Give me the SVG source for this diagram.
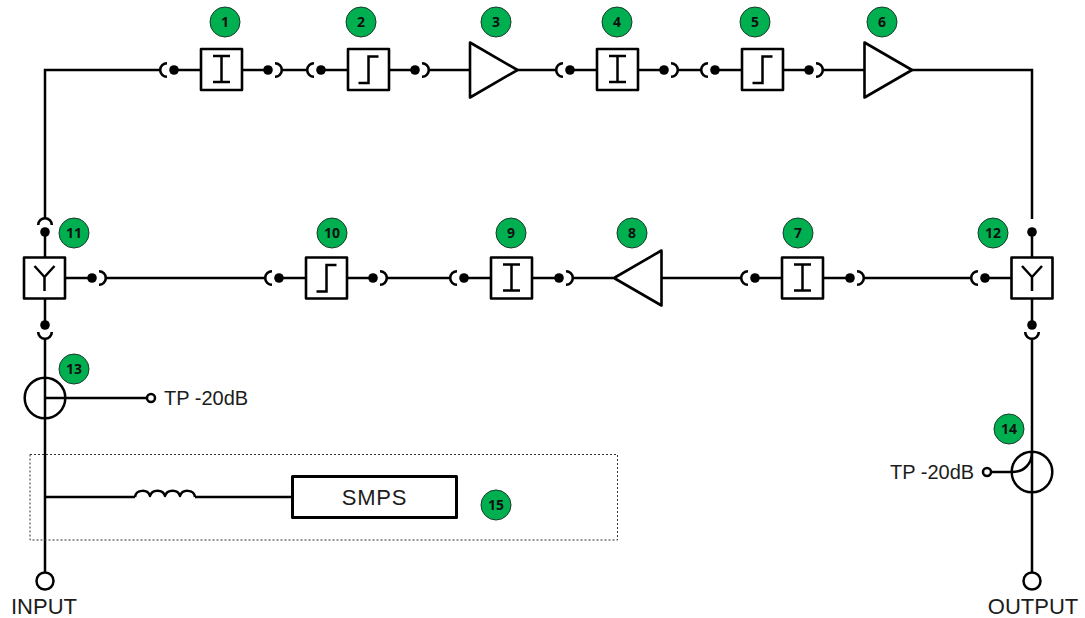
<svg xmlns="http://www.w3.org/2000/svg" width="1085" height="618" viewBox="0 0 1085 618">
<style>
.l{fill:none;stroke:#000;stroke-width:2.5}
.b{fill:#fff;stroke:#000;stroke-width:2.6;stroke-linejoin:round}
.g{fill:none;stroke:#000;stroke-width:2.5}
.c{fill:#00b050;stroke:#1a3a28;stroke-width:1}
.n{font-family:"Open Sans","Noto Sans",sans-serif;font-weight:700;font-size:14px;text-anchor:middle;fill:#111}
.t{font-family:"Liberation Sans",Arial,sans-serif;font-size:20px;fill:#1c1c1c}
.h{font-size:22px}
.m{text-anchor:middle}
.o{fill:#fff;stroke:#000;stroke-width:2.5}
</style>
<defs>
<g id="jack"><circle r="4.800" fill="#000"/><path d="M-7,-6.800A6.800,6.800 0 0 0 -7,6.800" fill="none" stroke="#000" stroke-width="2.600"/></g>
<g id="boxI"><rect class="b" x="-20.500" y="-20.500" width="41" height="41"/><path class="g" d="M-8.500,-13.500H8.500M0,-13.500V12.500M-8.500,12.500H8.500"/></g>
<g id="boxS"><rect class="b" x="-20.500" y="-20.500" width="41" height="41"/><path class="g" d="M-10,13.500H0V-13H10"/></g>
<g id="boxY"><rect class="b" x="-20.500" y="-20.500" width="41" height="41"/><path class="g" d="M-10,-12L0,-1L10,-12M0,-1V13"/></g>
<path id="tri" class="b" d="M0,-27.500L47.500,0L0,27.500Z"/>
<circle id="badge" class="c" r="15"/>
</defs>

<g id="connectors">
<path class="l" d="M45,219V70H160M174,70H201M242,70H268M282,70H307M321,70H348M388,70H415M429,70H470M517,70H556M570,70H597M637,70H664M678,70H701M715,70H742M782,70H809M823,70H864M912,70H1032V219"/>
<path class="l" d="M45,232V258M45,299V325M92,278H65M106,278H265M279,278H306M347,278H373M387,278H450M464,278H491M532,278H559M573,278H613M662,278H741M755,278H782M823,278H850M864,278H971M985,278H1012M1032,232V258M1032,299V325"/>
<path class="l" d="M45,339V573M1032,339V573"/>
<path class="l" d="M45,398H147M983,472H1012C1024,472 1032,464 1032,452"/>
<path class="l" d="M45,497H135M195,497H293"/>
<path class="l" stroke-linejoin="round" d="M135,497C136,489 148,489 150,496C152,489 163,489 165,496C167,489 178,489 180,496C182,489 194,489 195,497"/>
<use href="#jack" x="174" y="70"/>
<use href="#jack" transform="translate(268,70) scale(-1,1)"/>
<use href="#jack" x="321" y="70"/>
<use href="#jack" transform="translate(415,70) scale(-1,1)"/>
<use href="#jack" x="570" y="70"/>
<use href="#jack" transform="translate(664,70) scale(-1,1)"/>
<use href="#jack" x="715" y="70"/>
<use href="#jack" transform="translate(809,70) scale(-1,1)"/>
<use href="#jack" transform="translate(45,232) rotate(90)"/>
<use href="#jack" transform="translate(45,325) rotate(-90)"/>
<use href="#jack" transform="translate(92,278) scale(-1,1)"/>
<use href="#jack" x="279" y="278"/>
<use href="#jack" transform="translate(373,278) scale(-1,1)"/>
<use href="#jack" x="464" y="278"/>
<use href="#jack" transform="translate(559,278) scale(-1,1)"/>
<use href="#jack" x="755" y="278"/>
<use href="#jack" transform="translate(850,278) scale(-1,1)"/>
<use href="#jack" x="985" y="278"/>
<use href="#jack" transform="translate(1032,325) rotate(-90)"/>
<circle cx="1032" cy="232" r="4.800" fill="#000"/>
</g>

<g id="n1"><use href="#boxI" x="221.500" y="69.500"/></g>
<g id="n2"><use href="#boxS" x="368.500" y="69.500"/></g>
<g id="n3"><use href="#tri" x="470" y="70"/></g>
<g id="n4"><use href="#boxI" x="617.500" y="69.500"/></g>
<g id="n5"><use href="#boxS" x="762.500" y="69.500"/></g>
<g id="n6"><use href="#tri" x="864.500" y="70"/></g>
<g id="n7"><use href="#boxI" x="802.500" y="278"/></g>
<g id="n8"><use href="#tri" transform="translate(661.500,278) scale(-1,1)"/></g>
<g id="n9"><use href="#boxI" x="511.500" y="278"/></g>
<g id="n10"><use href="#boxS" x="326.500" y="278"/></g>
<g id="n11"><use href="#boxY" x="44.500" y="278"/></g>
<g id="n12"><use href="#boxY" x="1032" y="278"/></g>
<g id="n13"><circle class="l" cx="45" cy="398" r="20.300"/></g>
<g id="n14"><circle class="l" cx="1032" cy="472" r="20.300"/></g>
<g id="tp13"><circle class="o" cx="151" cy="398" r="4"/><text class="t" x="164" y="405">TP -20dB</text></g>
<g id="tp14"><circle class="o" cx="987" cy="472" r="4"/><text class="t" x="890" y="479">TP -20dB</text></g>
<g id="input"><circle class="o" cx="45" cy="581" r="8.500"/><text class="t h m" x="44" y="614">INPUT</text></g>
<g id="output"><circle class="o" cx="1032" cy="581" r="8.500"/><text class="t h m" x="1033" y="614">OUTPUT</text></g>
<g id="group15"><rect x="30" y="454.500" width="587.500" height="85.500" fill="none" stroke="#333" stroke-width="1" stroke-dasharray="2 2"/></g>
<g id="n15"><rect x="292.500" y="476.500" width="164" height="41" fill="#fff" stroke="#000" stroke-width="3" stroke-linejoin="round"/><text class="t h m" x="374.500" y="505" style="letter-spacing:0.800px">SMPS</text></g>

<g id="badges">
<g id="b1"><use href="#badge" x="225" y="22"/><text class="n" x="225" y="27">1</text></g>
<g id="b2"><use href="#badge" x="361" y="22"/><text class="n" x="361" y="27">2</text></g>
<g id="b3"><use href="#badge" x="496" y="22"/><text class="n" x="496" y="27">3</text></g>
<g id="b4"><use href="#badge" x="617" y="22"/><text class="n" x="617" y="27">4</text></g>
<g id="b5"><use href="#badge" x="755" y="22"/><text class="n" x="755" y="27">5</text></g>
<g id="b6"><use href="#badge" x="882" y="22"/><text class="n" x="882" y="27">6</text></g>
<g id="b7"><use href="#badge" x="798" y="233"/><text class="n" x="798" y="238">7</text></g>
<g id="b8"><use href="#badge" x="632" y="233"/><text class="n" x="632" y="238">8</text></g>
<g id="b9"><use href="#badge" x="511" y="233"/><text class="n" x="511" y="238">9</text></g>
<g id="b10"><use href="#badge" x="332" y="233"/><text class="n" x="332" y="238">10</text></g>
<g id="b11"><use href="#badge" x="74" y="233"/><text class="n" x="74" y="238">11</text></g>
<g id="b12"><use href="#badge" x="993" y="233"/><text class="n" x="993" y="238">12</text></g>
<g id="b13"><use href="#badge" x="74" y="369"/><text class="n" x="74" y="374">13</text></g>
<g id="b14"><use href="#badge" x="1009" y="429"/><text class="n" x="1009" y="434">14</text></g>
<g id="b15"><use href="#badge" x="496" y="505"/><text class="n" x="496" y="510">15</text></g>
</g>
</svg>
